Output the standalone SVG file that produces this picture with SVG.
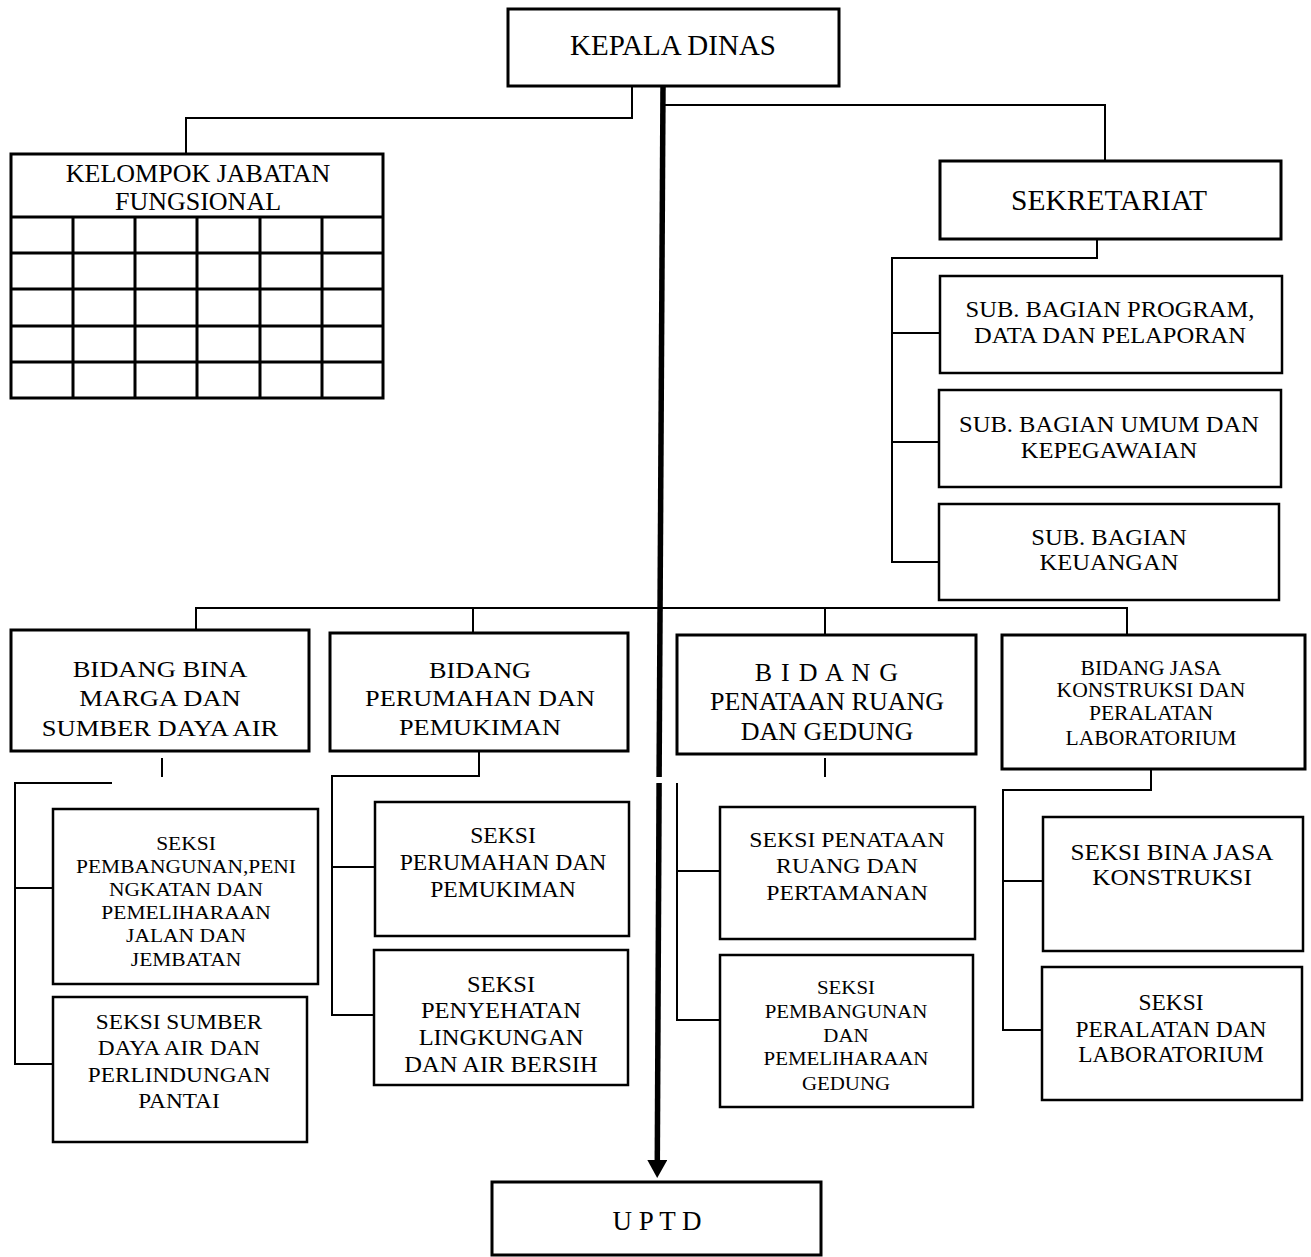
<svg xmlns="http://www.w3.org/2000/svg" width="1311" height="1257" viewBox="0 0 1311 1257">
<style>
.bx{fill:#fff;stroke:#000;stroke-width:3}
.bs{fill:#fff;stroke:#000;stroke-width:2.5}
.c{fill:none;stroke:#000;stroke-width:2}
.g{fill:none;stroke:#000;stroke-width:3}
text{font-family:"Liberation Serif","Times New Roman",serif;fill:#000;text-anchor:middle}
</style>
<defs>
<marker id="ah" markerWidth="18" markerHeight="20" refX="0" refY="10" orient="auto" markerUnits="userSpaceOnUse" viewBox="0 0 18 20">
<path d="M0,0 L18,10 L0,20 z" fill="#000"/>
</marker>
</defs>
<rect width="1311" height="1257" fill="#fff"/>

<g id="connectors">
<path class="c" d="M632,86 V118 H186 V154"/>
<path class="c" d="M662,105 H1105 V161"/>
<path class="c" d="M1097,239 V258 H892 V562 H940 M892,333 H940 M892,442 H940"/>
<path class="c" d="M196,630 V608 H1127 V634 M473,608 V633 M825,608 V635"/>
<path class="c" d="M162,758 V777 M112,783 H15 V1064 H53 M15,888 H53"/>
<path class="c" d="M479,751 V776 H332 V1015 H374 M332,867 H375"/>
<path class="c" d="M825,758 V777 M677,783 V1020 H720 M677,871 H720"/>
<path class="c" d="M1151,769 V790 H1003 V1030 H1042 M1003,881 H1043"/>
<path d="M663,86 L659.1,777" stroke="#000" stroke-width="5.5" fill="none"/>
<path d="M659.1,783 L657.3,1160" stroke="#000" stroke-width="5.5" fill="none" marker-end="url(#ah)"/>
</g>

<g id="kepala">
<rect class="bx" x="508" y="9" width="331" height="77"/>
<text x="673" y="55" font-size="29">KEPALA DINAS</text>
</g>

<g id="kelompok">
<rect class="bx" x="11" y="154" width="372" height="244"/>
<path class="g" d="M11,217 H383 M11,253 H383 M11,289 H383 M11,326 H383 M11,362 H383 M73,217 V398 M135,217 V398 M197,217 V398 M260,217 V398 M322,217 V398"/>
<text x="198" y="182" font-size="26">KELOMPOK JABATAN</text>
<text x="198" y="210" font-size="26">FUNGSIONAL</text>
</g>

<g id="sekretariat">
<rect class="bx" x="940" y="161" width="341" height="78"/>
<text x="1109" y="210" font-size="29.5">SEKRETARIAT</text>
</g>

<g id="sub-program">
<rect class="bs" x="940" y="276" width="342" height="97"/>
<text transform="translate(1110 0) scale(1.067 1)" font-size="23"><tspan x="0" y="317">SUB. BAGIAN PROGRAM,</tspan><tspan x="0" y="343">DATA DAN PELAPORAN</tspan></text>
</g>

<g id="sub-umum">
<rect class="bs" x="939" y="390" width="342" height="97"/>
<text transform="translate(1109 0) scale(1.067 1)" font-size="23"><tspan x="0" y="432">SUB. BAGIAN UMUM DAN</tspan><tspan x="0" y="458">KEPEGAWAIAN</tspan></text>
</g>

<g id="sub-keuangan">
<rect class="bs" x="939" y="504" width="340" height="96"/>
<text transform="translate(1109 0) scale(1.067 1)" font-size="23"><tspan x="0" y="545">SUB. BAGIAN</tspan><tspan x="0" y="570">KEUANGAN</tspan></text>
</g>

<g id="bidang-bina-marga">
<rect class="bx" x="11" y="630" width="298" height="121"/>
<text transform="translate(160 0) scale(1.155 1)" font-size="23"><tspan x="0" y="677">BIDANG BINA</tspan><tspan x="0" y="706">MARGA DAN</tspan><tspan x="0" y="736">SUMBER DAYA AIR</tspan></text>
</g>

<g id="bidang-perumahan">
<rect class="bx" x="330" y="633" width="298" height="118"/>
<text transform="translate(480 0) scale(1.095 1)" font-size="24"><tspan x="0" y="678">BIDANG</tspan><tspan x="0" y="706">PERUMAHAN DAN</tspan><tspan x="0" y="735">PEMUKIMAN</tspan></text>
</g>

<g id="bidang-penataan">
<rect class="bx" x="677" y="635" width="299" height="119"/>
<text transform="translate(827 0) scale(1.04 1)" font-size="25"><tspan x="0" y="681" letter-spacing="1.2">B I D A N G</tspan><tspan x="0" y="710">PENATAAN RUANG</tspan><tspan x="0" y="740">DAN GEDUNG</tspan></text>
</g>

<g id="bidang-jasa">
<rect class="bx" x="1002" y="635" width="303" height="134"/>
<text transform="translate(1151 0) scale(1.08 1)" font-size="20"><tspan x="0" y="675">BIDANG JASA</tspan><tspan x="0" y="697">KONSTRUKSI DAN</tspan><tspan x="0" y="720">PERALATAN</tspan><tspan x="0" y="745">LABORATORIUM</tspan></text>
</g>

<g id="seksi-jalan">
<rect class="bs" x="53" y="809" width="265" height="175"/>
<text transform="translate(186 0) scale(1.13 1)" font-size="19"><tspan x="0" y="850">SEKSI</tspan><tspan x="0" y="873">PEMBANGUNAN,PENI</tspan><tspan x="0" y="896">NGKATAN DAN</tspan><tspan x="0" y="919">PEMELIHARAAN</tspan><tspan x="0" y="942">JALAN DAN</tspan><tspan x="0" y="966">JEMBATAN</tspan></text>
</g>

<g id="seksi-sda">
<rect class="bs" x="53" y="997" width="254" height="145"/>
<text transform="translate(179 0) scale(1.06 1)" font-size="22"><tspan x="0" y="1029">SEKSI SUMBER</tspan><tspan x="0" y="1055">DAYA AIR DAN</tspan><tspan x="0" y="1082">PERLINDUNGAN</tspan><tspan x="0" y="1108">PANTAI</tspan></text>
</g>

<g id="seksi-perumahan">
<rect class="bs" x="375" y="802" width="254" height="134"/>
<text transform="translate(503 0) scale(1.05 1)" font-size="22.5"><tspan x="0" y="843">SEKSI</tspan><tspan x="0" y="870">PERUMAHAN DAN</tspan><tspan x="0" y="897">PEMUKIMAN</tspan></text>
</g>

<g id="seksi-penyehatan">
<rect class="bs" x="374" y="950" width="254" height="135"/>
<text transform="translate(501 0) scale(1.09 1)" font-size="22.5"><tspan x="0" y="992">SEKSI</tspan><tspan x="0" y="1018">PENYEHATAN</tspan><tspan x="0" y="1045">LINGKUNGAN</tspan><tspan x="0" y="1072">DAN AIR BERSIH</tspan></text>
</g>

<g id="seksi-penataan">
<rect class="bs" x="720" y="807" width="255" height="132"/>
<text transform="translate(847 0) scale(1.105 1)" font-size="21.5"><tspan x="0" y="847">SEKSI PENATAAN</tspan><tspan x="0" y="873">RUANG DAN</tspan><tspan x="0" y="900">PERTAMANAN</tspan></text>
</g>

<g id="seksi-gedung">
<rect class="bs" x="720" y="955" width="253" height="152"/>
<text transform="translate(846 0) scale(1.1 1)" font-size="19"><tspan x="0" y="994">SEKSI</tspan><tspan x="0" y="1018">PEMBANGUNAN</tspan><tspan x="0" y="1042">DAN</tspan><tspan x="0" y="1065">PEMELIHARAAN</tspan><tspan x="0" y="1090">GEDUNG</tspan></text>
</g>

<g id="seksi-bina-jasa">
<rect class="bs" x="1043" y="817" width="260" height="134"/>
<text transform="translate(1172 0) scale(1.12 1)" font-size="22.5"><tspan x="0" y="860">SEKSI BINA JASA</tspan><tspan x="0" y="885">KONSTRUKSI</tspan></text>
</g>

<g id="seksi-peralatan">
<rect class="bs" x="1042" y="967" width="260" height="133"/>
<text transform="translate(1171 0) scale(1.04 1)" font-size="22.5"><tspan x="0" y="1010">SEKSI</tspan><tspan x="0" y="1037">PERALATAN DAN</tspan><tspan x="0" y="1062">LABORATORIUM</tspan></text>
</g>

<g id="uptd">
<rect class="bx" x="492" y="1182" width="329" height="73"/>
<text x="657" y="1230" font-size="27">U P T D</text>
</g>
</svg>
